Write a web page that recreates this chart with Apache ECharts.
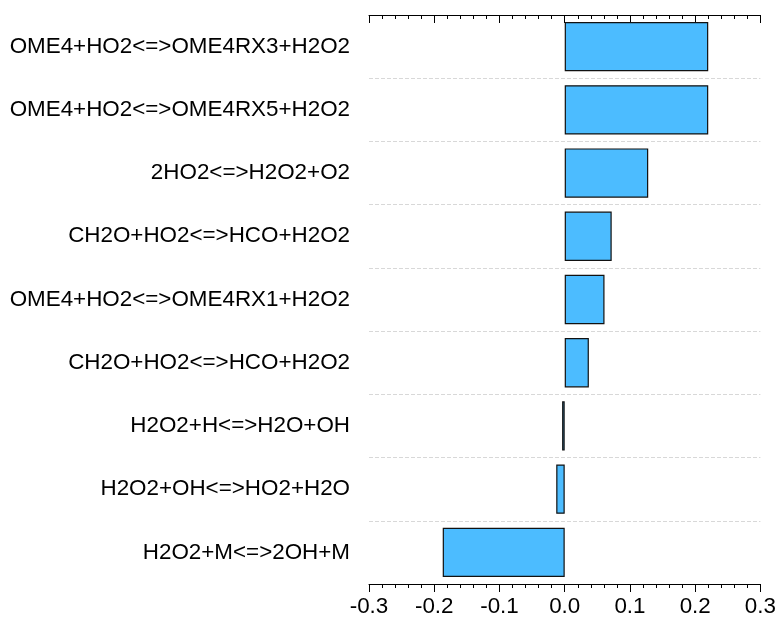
<!DOCTYPE html>
<html>
<head>
<meta charset="utf-8">
<script src="https://cdn.jsdelivr.net/npm/echarts@6/dist/echarts.min.js"></script>
<style>html,body{margin:0;padding:0;background:#fff}#c{width:779px;height:619px}</style>
</head>
<body>
<div id="c"></div>
<script>
var categories = [
  'OME4+HO2<=>OME4RX3+H2O2',
  'OME4+HO2<=>OME4RX5+H2O2',
  '2HO2<=>H2O2+O2',
  'CH2O+HO2<=>HCO+H2O2',
  'OME4+HO2<=>OME4RX1+H2O2',
  'CH2O+HO2<=>HCO+H2O2',
  'H2O2+H<=>H2O+OH',
  'H2O2+OH<=>HO2+H2O',
  'H2O2+M<=>2OH+M'
];
var values = [0.220, 0.220, 0.128, 0.072, 0.061, 0.037, -0.004, -0.013, -0.187];
var xTicks = [-0.3, -0.2, -0.1, 0.0, 0.1, 0.2, 0.3];

var chart = echarts.init(document.getElementById('c'));
var font = 'Liberation Sans, Arial, sans-serif';
chart.setOption({
  animation: false,
  grid: { left: 369, right: 17, top: 15, bottom: 35, containLabel: false },
  xAxis: [
    {
      type: 'value', position: 'bottom',
      min: xTicks[0], max: xTicks[xTicks.length - 1], interval: 0.1,
      axisLine: { show: true, lineStyle: { color: '#000', width: 1 } },
      axisTick: { show: true, inside: false, length: 8, lineStyle: { color: '#000' } },
      minorTick: { show: true, splitNumber: 5, length: 4, lineStyle: { color: '#000' } },
      axisLabel: { color: '#000', fontSize: 22.4, fontFamily: font, margin: 12,
        formatter: function (v) { return (Math.round(v * 10) / 10).toFixed(1); } },
      splitLine: { show: false }
    },
    {
      type: 'value', position: 'top',
      min: xTicks[0], max: xTicks[xTicks.length - 1], interval: 0.1,
      axisLine: { show: true, lineStyle: { color: '#000', width: 1 } },
      axisTick: { show: true, inside: true, length: 8, lineStyle: { color: '#000' } },
      minorTick: { show: true, splitNumber: 5, length: 4, lineStyle: { color: '#000' } },
      axisLabel: { show: false },
      splitLine: { show: false }
    }
  ],
  yAxis: {
    type: 'category', data: categories, inverse: true,
    axisLine: { show: false }, axisTick: { show: false },
    axisLabel: { color: '#000', fontSize: 22.4, fontFamily: font, margin: 19 },
    splitLine: { show: true, lineStyle: { color: '#d8d8d8', type: 'dashed', width: 1 } }
  },
  series: [{
    type: 'bar', data: values, xAxisIndex: 0,
    barCategoryGap: '22%',
    itemStyle: { color: '#4cbcff', borderColor: '#111', borderWidth: 1.2 }
  }]
});
</script>
</body>
</html>
